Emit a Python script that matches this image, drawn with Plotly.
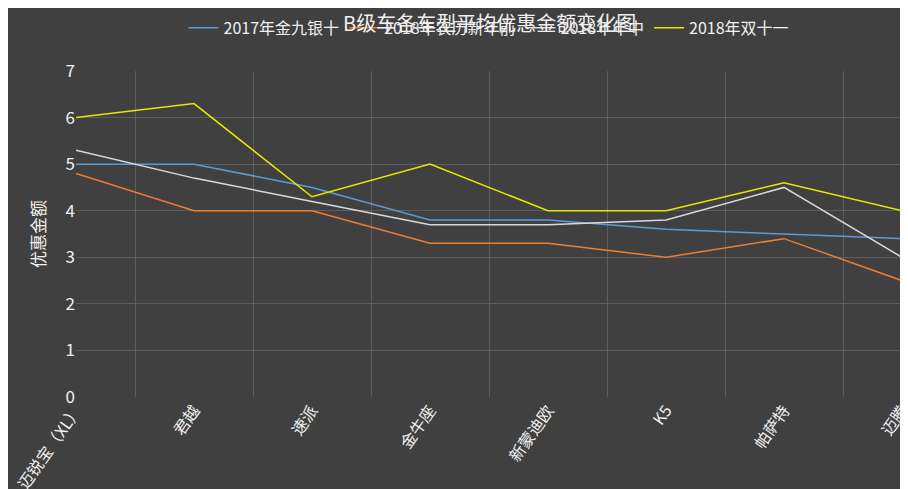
import plotly.graph_objects as go

cars = ["迈锐宝（XL）", "君越", "速派", "金牛座", "新蒙迪欧", "K5", "帕萨特", "迈腾"]
s2017 = [5, 5, 4.5, 3.8, 3.8, 3.6, 3.5, 3.4]
s_cny = [4.8, 4, 4, 3.3, 3.3, 3, 3.4, 2.5]
s_mid = [5.3, 4.7, 4.2, 3.7, 3.7, 3.8, 4.5, 3]
s_1111 = [6, 6.3, 4.3, 5, 4, 4, 4.6, 4]

SERIES = [("2017年金九银十", s2017, "#5B9BD5"),
          ("2018年农历新年前", s_cny, "#ED7D31"),
          ("2018年年中", s_mid, "#D9D9D9"),
          ("2018年双十一", s_1111, "#E8E800")]
FONT = "Noto Sans CJK SC"
BG = "#404040"; GRID = "#5c5c5c"

fig = go.Figure()
for name, ys, c in SERIES:
    fig.add_trace(go.Scatter(x=cars, y=ys, mode="lines", name=name,
                             line=dict(color=c, width=1.5)))

fig.update_layout(
    width=908, height=489, paper_bgcolor=BG, plot_bgcolor=BG,
    font=dict(family=FONT, color="#f0f0f0", size=16),
    margin=dict(l=65, r=3, t=53, b=91),
    legend=dict(orientation="h", x=0.5, xanchor="center", y=1.08, yanchor="bottom",
                font=dict(size=16, color="#f0f0f0"), bgcolor="rgba(0,0,0,0)"),
)
# title sits mostly above the visible frame, as in the source screenshot
fig.add_annotation(text="B级车各车型平均优惠金额变化图", xref="paper", yref="paper",
                   x=0.5, y=1.15, yanchor="middle", showarrow=False,
                   font=dict(size=20, color="#f0f0f0"))
fig.update_xaxes(type="category", tickson="boundaries", showgrid=True, gridcolor=GRID,
                 tickangle=-55, ticks="", showline=False, tickfont=dict(size=16))
fig.update_yaxes(range=[0, 7], dtick=1, showgrid=True, gridcolor=GRID, zeroline=False,
                 title=dict(text="优惠金额", font=dict(size=17)), tickfont=dict(size=17))
fig.write_html("out.html")
